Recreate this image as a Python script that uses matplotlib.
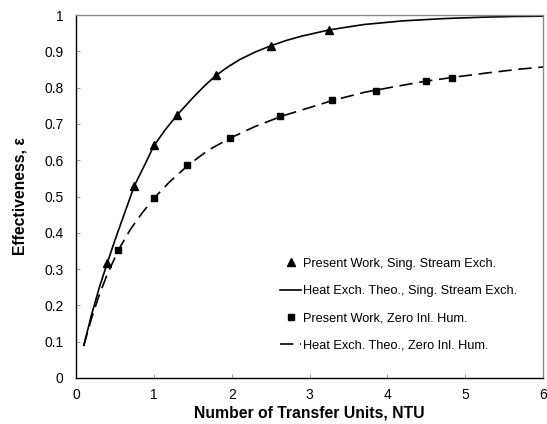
import matplotlib
matplotlib.use("Agg")
import matplotlib.pyplot as plt

plt.rcParams['font.family'] = ['Liberation Sans', 'DejaVu Sans']

# Measured effectiveness, single stream exchanger
ntu_sing = [0.40, 0.75, 1.00, 1.30, 1.80, 2.50, 3.25]
eff_sing = [0.316, 0.530, 0.642, 0.725, 0.834, 0.915, 0.959]

# Heat exchanger theory, single stream exchanger
ntu_sing_theo = [0.1, 0.2, 0.3, 0.4, 0.5, 0.6, 0.75, 0.9, 1.0, 1.15, 1.3, 1.5,
                 1.65, 1.8, 1.95, 2.1, 2.3, 2.5, 2.7, 2.9, 3.25, 3.7, 4.2,
                 4.7, 5.2, 5.6, 6.0]
eff_sing_theo = [0.090, 0.175, 0.250, 0.316, 0.380, 0.440, 0.530, 0.595, 0.640,
                 0.685, 0.725, 0.772, 0.805, 0.834, 0.857, 0.877, 0.898, 0.915,
                 0.930, 0.942, 0.959, 0.974, 0.984, 0.990, 0.994, 0.996, 0.997]

# Measured effectiveness, zero inlet humidity
ntu_zero = [0.54, 1.00, 1.43, 1.98, 2.62, 3.29, 3.85, 4.49, 4.83]
eff_zero = [0.352, 0.495, 0.587, 0.661, 0.722, 0.766, 0.791, 0.818, 0.826]

# Heat exchanger theory, zero inlet humidity
ntu_zero_theo = [0.1, 0.2, 0.3, 0.4, 0.55, 0.7, 0.85, 1.0, 1.2, 1.45, 1.7, 2.0,
                 2.3, 2.65, 3.0, 3.3, 3.7, 4.1, 4.5, 4.9, 5.3, 5.7, 6.0]
eff_zero_theo = [0.090, 0.165, 0.230, 0.285, 0.355, 0.410, 0.455, 0.495, 0.540,
                 0.588, 0.628, 0.663, 0.693, 0.722, 0.745, 0.765, 0.787, 0.803,
                 0.818, 0.830, 0.841, 0.851, 0.857]

x_ticks = [0, 1, 2, 3, 4, 5, 6]
y_ticks = [0, 0.1, 0.2, 0.3, 0.4, 0.5, 0.6, 0.7, 0.8, 0.9, 1]
y_tick_labels = ['0', '0.1', '0.2', '0.3', '0.4', '0.5', '0.6', '0.7', '0.8', '0.9', '1']

fig = plt.figure(figsize=(5.47, 4.24), dpi=100)
ax = fig.add_axes([0.139, 0.1085, 0.854, 0.856])

ax.plot(ntu_sing, eff_sing, linestyle='none', marker='^', color='black',
        markersize=5.5, label='Present Work, Sing. Stream Exch.')
ax.plot(ntu_sing_theo, eff_sing_theo, '-', color='black', lw=1.2,
        label='Heat Exch. Theo., Sing. Stream Exch.')
ax.plot(ntu_zero, eff_zero, linestyle='none', marker='s', color='black',
        markersize=5, label='Present Work, Zero Inl. Hum.')
ax.plot(ntu_zero_theo, eff_zero_theo, '--', color='black', lw=1.2,
        dashes=(8, 4), label='Heat Exch. Theo., Zero Inl. Hum.')

ax.set_xlim(0, 6)
ax.set_ylim(0, 1)
ax.set_xticks(x_ticks)
ax.set_xticklabels([str(t) for t in x_ticks])
ax.set_yticks(y_ticks)
ax.set_yticklabels(y_tick_labels)
ax.tick_params(direction='in', length=3, width=0.6, color='#888888',
               labelsize=10)
ax.tick_params(axis='y', pad=9)
ax.tick_params(axis='x', pad=7)

for side in ('left', 'bottom'):
    ax.spines[side].set_color('black')
    ax.spines[side].set_linewidth(1.0)
for side in ('top', 'right'):
    ax.spines[side].set_color('#888888')
    ax.spines[side].set_linewidth(1.0)

ax.set_xlabel('Number of Transfer Units, NTU', fontsize=11.3, fontweight='bold',
              labelpad=3)
ax.set_ylabel('Effectiveness, ε', fontsize=11.3, fontweight='bold', labelpad=12)

ax.legend(loc='upper left', bbox_to_anchor=(0.512, 0.392),
          bbox_transform=fig.transFigure, frameon=False, borderpad=0,
          borderaxespad=0, fontsize=9.2, handlelength=1.65,
          labelspacing=1.2, handletextpad=0.15)

fig.savefig('out.png', dpi=100)
